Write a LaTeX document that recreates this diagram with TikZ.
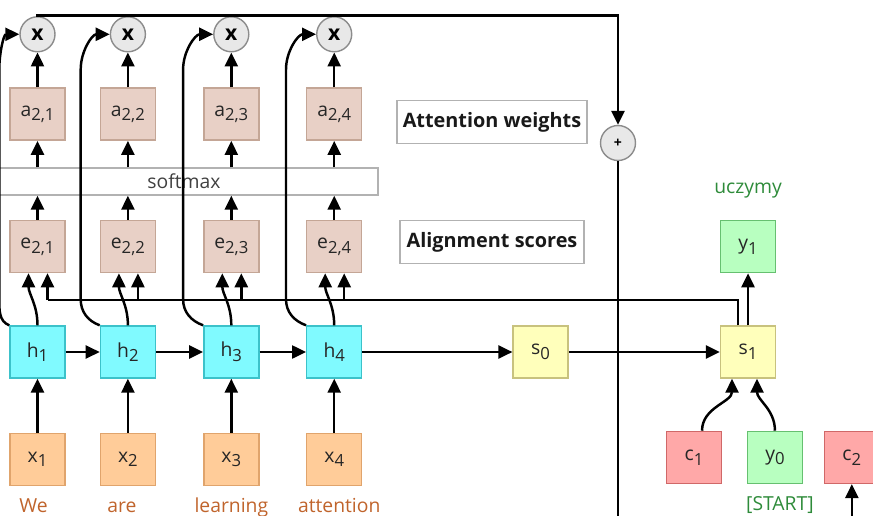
\documentclass[tikz,border=0pt]{standalone}
\usepackage{fontspec}
\setmainfont{Open Sans}
\usetikzlibrary{positioning,calc,arrows.meta}
\definecolor{xFill}{HTML}{FFCC99}
\definecolor{xLine}{HTML}{E0A46C}
\definecolor{hFill}{HTML}{80FAFF}
\definecolor{hLine}{HTML}{3CC2CA}
\definecolor{eFill}{HTML}{E8D0C6}
\definecolor{eLine}{HTML}{C4A696}
\definecolor{sFill}{HTML}{FFFFBB}
\definecolor{sLine}{HTML}{C8C27E}
\definecolor{cFill}{HTML}{FFA8A8}
\definecolor{cLine}{HTML}{D06868}
\definecolor{yFill}{HTML}{B8FFC0}
\definecolor{yLine}{HTML}{66C070}
\definecolor{opFill}{HTML}{E8E8E8}
\definecolor{opLine}{HTML}{8C8C8C}
\definecolor{wordColor}{HTML}{C0642C}
\definecolor{outColor}{HTML}{2E8B3A}
\newcommand{\lowidx}[1]{\raisebox{-0.45ex}{\fontsize{9.5}{11}\selectfont #1}}
\tikzset{
    cell/.style={
        rectangle,
        draw,
        line width=0.8pt,
        minimum width=1.1cm,
        minimum height=1.04cm,
        inner sep=0pt,
        text=black!85,
        font=\fontsize{11}{13}\selectfont
    },
    xcell/.style={cell, fill=xFill, draw=xLine},
    hcell/.style={cell, fill=hFill, draw=hLine},
    ecell/.style={cell, fill=eFill, draw=eLine},
    scell/.style={cell, fill=sFill, draw=sLine},
    ccell/.style={cell, fill=cFill, draw=cLine},
    ycell/.style={cell, fill=yFill, draw=yLine},
    op/.style={
        circle,
        draw=opLine,
        fill=opFill,
        line width=0.8pt,
        minimum size=0.7cm,
        inner sep=0pt
    },
    tagbox/.style={
        draw=gray!60,
        line width=0.8pt,
        minimum width=3.68cm,
        minimum height=0.86cm,
        text=black!90,
        font=\bfseries\fontsize{11.3}{13}\selectfont
    },
    word/.style={text=wordColor, font=\fontsize{11}{13}\selectfont},
    outword/.style={text=outColor, font=\fontsize{11}{13}\selectfont},
    ptr/.style={
        -{Triangle[length=0.28cm,width=0.26cm]},
        line width=1.4pt
    },
    wire/.style={line width=1.4pt}
}

\begin{document}
\begin{tikzpicture}
    \useasboundingbox (-0.75,-3.26) rectangle (16.71,7.04);

    % encoder
    \node[hcell] (h1) at (0,0) {h\lowidx{1}};
    \node[hcell, right=0.68cm of h1] (h2) {h\lowidx{2}};
    \node[hcell, right=0.94cm of h2] (h3) {h\lowidx{3}};
    \node[hcell, right=0.93cm of h3] (h4) {h\lowidx{4}};

    \foreach \i in {1,...,4} {
        \node[xcell, below=1.08cm of h\i] (x\i) {x\lowidx{\i}};
        \node[ecell, above=1.04cm of h\i] (e\i) {e\lowidx{2,\i}};
        \node[ecell, above=1.58cm of e\i] (a\i) {a\lowidx{2,\i}};
        \node[op, above=0.7cm of a\i, font=\bfseries\fontsize{12}{14}\selectfont] (m\i) {x};
    }

    \node[word, below=0.52cm of x1, anchor=base, xshift=-0.08cm] (w1) {We};
    \node[word, below=0.52cm of x2, anchor=base, xshift=-0.12cm] (w2) {are};
    \node[word, below=0.52cm of x3, anchor=base] (w3) {learning};
    \node[word, below=0.52cm of x4, anchor=base, xshift=0.1cm] (w4) {attention};

    \node[draw=gray!60, line width=0.8pt, minimum width=7.76cm, minimum height=0.54cm,
          text=black!75, font=\fontsize{11}{13}\selectfont] (soft) at (2.93,3.41) {softmax};

    \node[tagbox] (attw) at (9.09,4.6) {Attention weights};
    \node[tagbox] (alsc) at (9.09,2.2) {Alignment scores};

    \node[op, font=\bfseries\footnotesize] (plus) at (11.61,4.18) {+};

    % decoder
    \node[scell, right=3.0cm of h4] (s0) {s\lowidx{0}};
    \node[scell, right=3.02cm of s0] (s1) {s\lowidx{1}};
    \node[ycell, above=1.04cm of s1] (y1) {y\lowidx{1}};
    \node[outword, above=0.52cm of y1, anchor=base] (ucz) {uczymy};
    \node[ccell, below=1.04cm of s1, xshift=-1.08cm] (c1) {c\lowidx{1}};
    \node[ycell, right=0.49cm of c1] (y0) {y\lowidx{0}};
    \node[outword, below=0.52cm of y0, anchor=base, xshift=0.1cm] (start) {[START]};
    \node[ccell, right=0.41cm of y0] (c2) {c\lowidx{2}};

    \coordinate (topy) at (0,6.726);
    \coordinate (sl) at (0,1.04);
    \coordinate (bottom) at (0,-3.5);

    \foreach \i in {1,...,4} {
        \draw[ptr] (x\i) -- (h\i);
        \draw[ptr] (h\i.north) to[out=90,in=-90] ([xshift=-0.18cm]e\i.south);
        \draw[ptr] (e\i.north) -- (e\i.north |- soft.south);
        \draw[ptr] (a\i.south |- soft.north) -- (a\i);
        \draw[ptr] (a\i) -- (m\i);
        \draw[wire] (m\i) -- (m\i |- topy);
        \coordinate (er\i) at ([xshift=0.2cm]e\i.south);
    }

    % h -> x curves
    \foreach \i/\d in {1/0.2,2/0.38,3/0.4,4/0.4}
        \draw[ptr] (h\i.north west) to[out=160,in=-90] ++(-\d,0.52) -- ++(0,4.6) to[out=90,in=180] (m\i.west);

    \draw[ptr] (h1) -- (h2);
    \draw[ptr] (h2) -- (h3);
    \draw[ptr] (h3) -- (h4);
    \draw[ptr] (h4) -- (s0);
    \draw[ptr] (s0) -- (s1);

    \draw[ptr] (m1.north) |- (plus |- topy) -- (plus);
    \draw[wire] (plus) -- (plus |- bottom);

    \draw[wire] ([xshift=-0.2cm]s1.north) |- (er1 |- sl);
    \foreach \i in {1,...,4}
        \draw[ptr] (er\i |- sl) -- (er\i);

    \draw[ptr] (s1) -- (y1);
    \draw[ptr] ([xshift=0.16cm]c1.north) to[out=90,in=-90] ([xshift=-0.32cm]s1.south);
    \draw[ptr] (y0.north) to[out=90,in=-90] ([xshift=0.18cm]s1.south);
    \draw[ptr] (c2.south |- bottom) -- (c2);
\end{tikzpicture}
\end{document}
